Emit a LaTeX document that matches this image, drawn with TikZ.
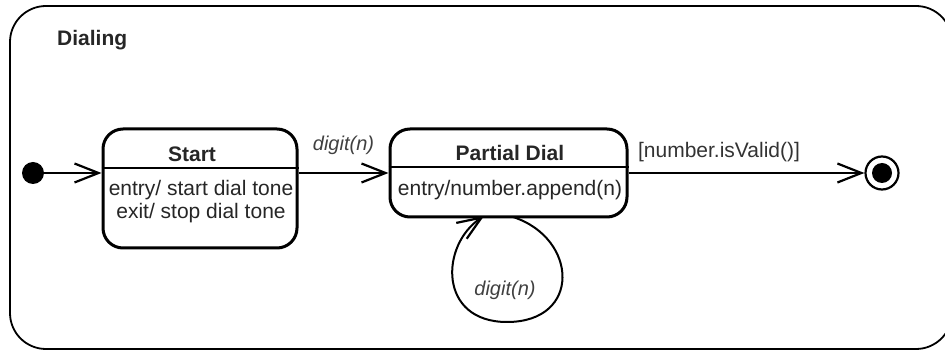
\documentclass[tikz,border=0pt]{standalone}
\usepackage{fontspec}
\setmainfont{Liberation Sans}
\usetikzlibrary{arrows.meta}
\begin{document}
\begin{tikzpicture}[x=1pt,y=-1pt,
  statebox/.style={draw, line width=3pt, rounded corners=20pt, inner sep=0pt},
  flow/.style={line width=2pt, -{Straight Barb[length=24pt,width=19pt,line width=2.2pt]}},
  lbl/.style={font=\fontsize{21}{25}\selectfont, inner sep=0pt},
  ilbl/.style={font=\fontsize{20}{24}\selectfont\itshape, inner sep=0pt, text=black!75},
  ttl/.style={font=\fontsize{21}{25}\selectfont\bfseries, inner sep=0pt, text=black!85}]
\useasboundingbox (0,0) rectangle (945,352);

% composite state frame
\draw[line width=1.8pt, rounded corners=36pt] (10,6) rectangle (952,349);
\node[ttl, anchor=west] (dialing) at (57,40) {Dialing};

% initial pseudostate
\node[circle, fill=black, minimum size=22pt, inner sep=0pt] (init) at (33,173) {};

% Start state
\node[statebox, minimum width=194pt, minimum height=119pt] (start) at (200,188.5) {};
\coordinate (startL) at (start.west |- 0,168);
\coordinate (startR) at (start.east |- 0,168);
\draw[line width=1.8pt] (startL) -- (startR);
\node[ttl] (startname) at (192,154) {Start};
\node[lbl, text=black!85] (startentry) at (201,190) {entry/ start dial tone};
\node[lbl, text=black!85] (startexit) at (201,213) {exit/ stop dial tone};

% Partial Dial state
\node[statebox, minimum width=237pt, minimum height=88pt] (partial) at (508.5,173) {};
\coordinate (partL) at (partial.west |- 0,167);
\coordinate (partR) at (partial.east |- 0,167);
\draw[line width=1.8pt] (partL) -- (partR);
\node[ttl] (partname) at (510,153) {Partial Dial};
\node[lbl, text=black!85] (partentry) at (510,190) {entry/number.append(n)};

% final state
\node[circle, draw, line width=2.2pt, minimum size=33pt, inner sep=0pt] (final) at (882,173) {};
\node[circle, fill=black, minimum size=20pt, inner sep=0pt] (finaldot) at (final) {};

% transitions
\draw[flow] (init) -- (init -| start.west);
\draw[flow] (start.east |- 0,173) -- node[ilbl, above=17pt] (t1) {digit(n)} (partial.west |- 0,173);
\draw[flow] (partial.east |- 0,173) -- (final.west);
\node[lbl, text=black!80] (guard) at (719,152) {[number.isValid()]};

% self transition on Partial Dial
\coordinate (loopout) at (513,217);
\coordinate (loopin) at (484,216);
\draw[flow] (loopout) .. controls (578,238) and (582,322) .. (507,322)
  .. controls (438,322) and (440,245) .. (loopin);
\node[ilbl] (t2) at (505,290) {digit(n)};
\end{tikzpicture}
\end{document}
